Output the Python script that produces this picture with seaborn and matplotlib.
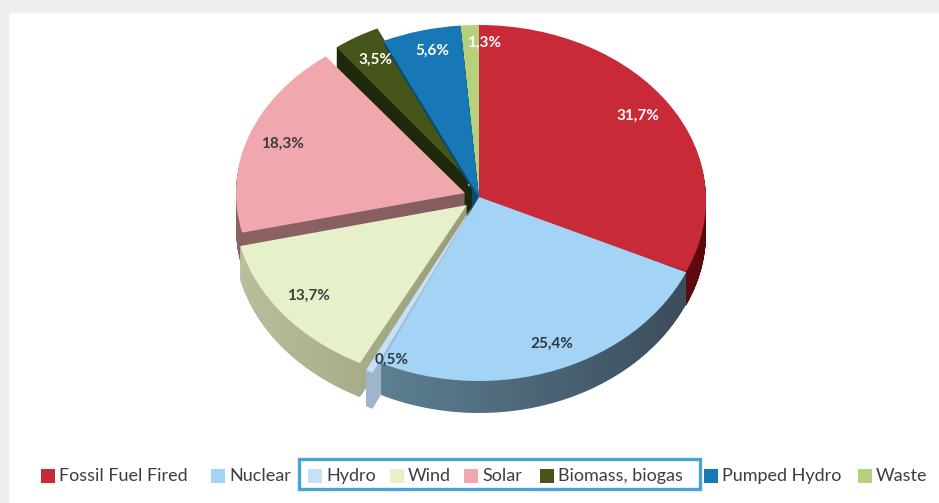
import matplotlib
matplotlib.use("Agg")
import matplotlib.pyplot as plt
import seaborn as sns
import numpy as np
from matplotlib.colors import LinearSegmentedColormap
from matplotlib.patches import Rectangle
from matplotlib.path import Path
from matplotlib.transforms import Affine2D

W, H = 939, 503

sources = ["Fossil Fuel Fired", "Nuclear", "Hydro", "Wind", "Solar", "Biomass, biogas", "Pumped Hydro", "Waste"]
shares = [31.7, 25.4, 0.5, 13.7, 18.3, 3.5, 5.6, 1.3]
share_labels = ["31,7%", "25,4%", "0,5%", "13,7%", "18,3%", "3,5%", "5,6%", "1,3%"]

top_colors = ["#c82a38", "#a3d4f5", "#c5e1f8", "#e6f0cb", "#f0a8ae", "#455419", "#1878b5", "#b7d07c"]
side_colors = [("#7c111a", "#5c0a10"), ("#5d7f92", "#3c4d5c"), ("#9fb4cc", "#b4c8dc"), ("#b9bf9c", "#989d7a"),
               ("#8d6265", "#855c5f"), ("#1e280b", "#1e280b"), ("#0c4a70", "#0c4a70"), ("#6f8545", "#6f8545")]
text_colors = ["#ffffff", "#2f3a40", "#2f3a40", "#3a4238", "#3f3a3a", "#ffffff", "#ffffff", "#ffffff"]

# ellipse of every slice in picture pixels, the pie is a faked perspective
centers = [(479, 200), (479, 197), (473, 205), (467, 205), (465, 193), (469, 180), (479, 197), (479, 197)]
radii = [(227, 175), (227, 184), (233, 186), (233, 178), (229, 172), (218, 167), (227, 172), (227, 172)]
depths = [34, 32, 36, 34, 36, 20, 4, 4]
label_xy = [(638, 116), (552, 344), (392, 360), (308, 296), (282, 144), (375, 60), (432, 51), (484, 43)]
legend_x = [41, 211, 308, 390, 464, 540, 704, 858]
draw_order = [5, 7, 6, 0, 4, 3, 2, 1]

sns.set_theme(style="white")
plt.rcParams["font.family"] = ["Lato", "DejaVu Sans"]

fig = plt.figure(figsize=(W / 100, H / 100), dpi=100, facecolor="white")
ax = fig.add_axes([0, 0, 1, 1])

wedges, _ = ax.pie(shares, startangle=90, counterclock=False, colors=sns.color_palette(top_colors),
                   wedgeprops={"linewidth": 0})

z = 2
for i in draw_order:
    cx, cy = centers[i]
    rx, ry = radii[i]
    unit = wedges[i].get_path()
    layers = [unit.transformed(Affine2D().scale(rx, ry).translate(cx, H - cy - d)) for d in range(1, depths[i] + 1)]
    side = Path.make_compound_path(*layers)
    box = side.get_extents()
    cmap = LinearSegmentedColormap.from_list("side", side_colors[i])
    im = ax.imshow(np.linspace(0, 1, 64).reshape(1, -1), extent=(box.x0, box.x1, 0, H), aspect="auto",
                   cmap=cmap, zorder=z)
    im.set_clip_path(side, ax.transData)
    wedges[i].set_transform(Affine2D().scale(rx, ry).translate(cx, H - cy) + ax.transData)
    wedges[i].set_zorder(z + 1)
    z += 2

for label, (x, y), color in zip(share_labels, label_xy, text_colors):
    ax.text(x, H - y, label, color=color, fontsize=11, fontweight="bold", ha="center", va="center", zorder=30)

# dark hub where the pulled out slices leave a hole
ax.add_patch(Rectangle((464, H - 216), 8, 30, color="#1e280b", zorder=1.5, linewidth=0))
ax.add_patch(Rectangle((472, H - 216), 8, 30, color="#0c4a70", zorder=1.5, linewidth=0))

# page margin and the box round the renewables
ax.add_patch(Rectangle((0, 0), 8, H, color="#efeeec", zorder=1))
ax.add_patch(Rectangle((0, H - 12), W, 12, color="#efeeec", zorder=1))
ax.add_patch(Rectangle((299, H - 489), 401, 30, fill=False, edgecolor="#4aa3d8", linewidth=2.4, zorder=31))

# legend gaps are uneven in the original so it is placed by hand
for name, color, x in zip(sources, top_colors, legend_x):
    ax.add_patch(Rectangle((x, H - 483), 14, 14, color=color, zorder=32, linewidth=0))
    ax.text(x + 18, H - 476, name, color="#3c3c44", fontsize=13, ha="left", va="center", zorder=32)

ax.set_aspect("auto")
ax.set_xlim(0, W)
ax.set_ylim(0, H)
ax.axis("off")

fig.savefig("out.png", dpi=100)
